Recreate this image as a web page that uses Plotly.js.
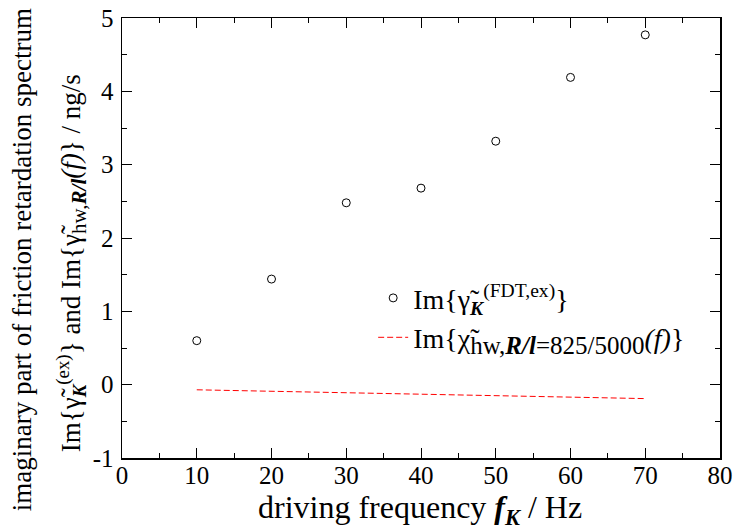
<!DOCTYPE html>
<html>
<head>
<meta charset="utf-8">
<script src="https://cdn.plot.ly/plotly-3.0.1.min.js"></script>
<style>html,body{margin:0;padding:0;background:#fff;}#chart{width:735px;height:529px;}</style>
</head>
<body>
<div id="chart"></div>
<script>
const freq = [10, 20, 30, 40, 50, 60, 70];
const gammaFDT = [0.60, 1.44, 2.48, 2.68, 3.32, 4.19, 4.77];
const chiHW = [-0.07, -0.09, -0.11, -0.13, -0.15, -0.17, -0.19];
const xTicks = [0, 10, 20, 30, 40, 50, 60, 70, 80];
const yTicks = [-1, 0, 1, 2, 3, 4, 5];

const FONT = "Liberation Serif";

const traces = [
  {
    x: freq, y: gammaFDT, type: 'scatter', mode: 'markers',
    name: 'Im{γ̃<sub><b><i>K</i></b></sub><sup>(FDT,ex)</sup>}',
    marker: {symbol: 'circle-open', size: 8, color: '#000', line: {width: 1, color: '#000'}}
  },
  {
    x: freq, y: chiHW, type: 'scatter', mode: 'lines',
    name: 'Im{χ̃<sub><span style="font-size:25px">hw,<b><i>R/l</i></b>=825/5000</span></sub><i>(f)</i>}',
    line: {color: '#ff0000', width: 1, dash: '6px,3px'}
  }
];

const axisCommon = {
  showline: true, linecolor: '#000', linewidth: 1.5, mirror: 'ticks',
  ticks: 'inside', ticklen: 10, tickwidth: 1, tickcolor: '#000',
  showgrid: false, zeroline: false,
  tickfont: {family: FONT, size: 25, color: '#000'}
};

const layout = {
  width: 735, height: 529,
  margin: {l: 122, r: 15, t: 18, b: 71},
  paper_bgcolor: '#fff', plot_bgcolor: '#fff',
  font: {family: FONT, color: '#000'},
  showlegend: true,
  legend: {
    x: 0.42, y: 0.42, xanchor: 'left', yanchor: 'top',
    bgcolor: 'rgba(0,0,0,0)', borderwidth: 0,
    font: {family: FONT, size: 28, color: '#000'},
    tracegroupgap: 0
  },
  xaxis: Object.assign({}, axisCommon, {
    range: [0, 80], tickmode: 'array', tickvals: xTicks, ticktext: xTicks.map(String),
    minor: {dtick: 5, ticklen: 5, tickcolor: '#000', ticks: 'inside'},
    ticklabelstandoff: -6
  }),
  yaxis: Object.assign({}, axisCommon, {
    range: [-1, 5], tickmode: 'array', tickvals: yTicks, ticktext: yTicks.map(String),
    minor: {dtick: 0.5, ticklen: 5, tickcolor: '#000', ticks: 'inside'},
    ticklabelstandoff: 2
  }),
  annotations: [
    {
      xref: 'paper', yref: 'paper', x: 0.498, y: -0.116,
      xanchor: 'center', yanchor: 'middle', showarrow: false,
      text: 'driving frequency <b><i>f<sub>K</sub></i></b> / Hz',
      font: {family: FONT, size: 32, color: '#000'}
    },
    {
      xref: 'paper', yref: 'paper', x: -0.167, y: 0.45,
      xanchor: 'center', yanchor: 'middle', textangle: -90, showarrow: false,
      text: 'imaginary part of friction retardation spectrum',
      font: {family: FONT, size: 27, color: '#000'}
    },
    {
      xref: 'paper', yref: 'paper', x: -0.085, y: 0.443,
      xanchor: 'center', yanchor: 'middle', textangle: -90, showarrow: false,
      text: 'Im{γ̃<sub><b><i>K</i></b></sub><sup>(ex)</sup>} and Im{γ̃<sub><span style="font-size:21px">hw,<b><i>R/l</i></b></span></sub><i>(f)</i>} / ng/s',
      font: {family: FONT, size: 27, color: '#000'}
    }
  ]
};

Plotly.newPlot('chart', traces, layout, {displayModeBar: false, staticPlot: true});
</script>
</body>
</html>
